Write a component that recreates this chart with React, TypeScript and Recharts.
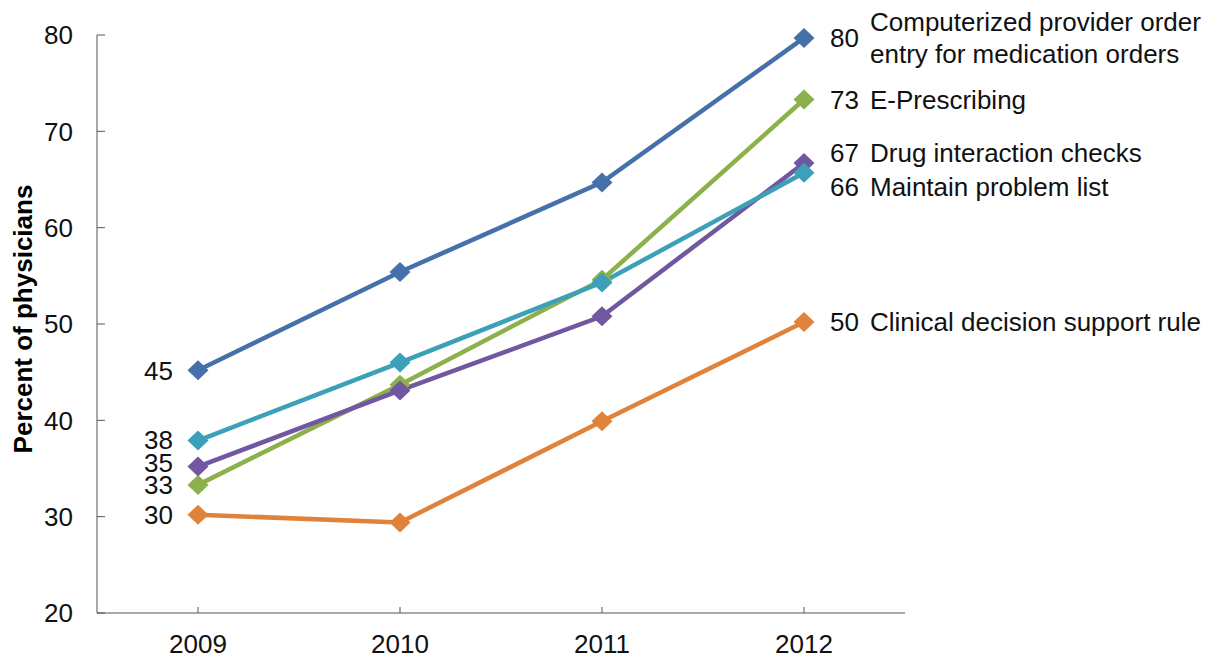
import { LineChart, Line, XAxis, YAxis, LabelList } from 'recharts';

const years = ['2009', '2010', '2011', '2012'];

// percent of physicians
const cpoe = [45.2, 55.4, 64.7, 79.7];
const ePrescribing = [33.3, 43.7, 54.6, 73.3];
const drugChecks = [35.2, 43.1, 50.8, 66.7];
const problemList = [37.9, 46.0, 54.3, 65.7];
const decisionSupport = [30.2, 29.4, 39.9, 50.2];

const yTicks = [20, 30, 40, 50, 60, 70, 80];

const data = years.map((year, i) => ({
  year,
  cpoe: cpoe[i],
  ePrescribing: ePrescribing[i],
  drugChecks: drugChecks[i],
  problemList: problemList[i],
  decisionSupport: decisionSupport[i],
}));

// nudges keep the end labels from overlapping
const series = [
  { key: 'cpoe', color: '#4570aa', name: ['Computerized provider order', 'entry for medication orders'], dyLeft: 1, dyRight: 0 },
  { key: 'ePrescribing', color: '#8cb04a', name: ['E-Prescribing'], dyLeft: 0, dyRight: 0 },
  { key: 'drugChecks', color: '#7157a0', name: ['Drug interaction checks'], dyLeft: -4, dyRight: -10 },
  { key: 'problemList', color: '#3ba0b8', name: ['Maintain problem list'], dyLeft: -1, dyRight: 14 },
  { key: 'decisionSupport', color: '#e0823a', name: ['Clinical decision support rule'], dyLeft: 0, dyRight: 0 },
];

const FONT = 26;

function Diamond(props: any) {
  const { cx, cy, fill, index } = props;
  if (cx == null || cy == null) return null;
  const w = 10.5;
  const h = 10;
  return (
    <polygon
      key={`d-${index}`}
      points={`${cx},${cy - h} ${cx + w},${cy} ${cx},${cy + h} ${cx - w},${cy}`}
      fill={fill}
    />
  );
}

function makeLabel(s: (typeof series)[number]) {
  return (props: any) => {
    const { x, y, value, index } = props;
    if (index === 0) {
      return (
        <text x={x - 25} y={y + s.dyLeft} dy="0.35em" textAnchor="end" fontSize={FONT} fill="#111">
          {Math.round(value)}
        </text>
      );
    }
    if (index === years.length - 1) {
      const ly = y + s.dyRight;
      const lines = s.name;
      return (
        <g>
          <text x={x + 26} y={ly} dy="0.35em" fontSize={FONT} fill="#111">
            {Math.round(value)}
          </text>
          {lines.map((line, i) => (
            <text
              key={line}
              x={x + 66}
              y={ly + (i - (lines.length - 1) / 2) * 32}
              dy="0.35em"
              fontSize={FONT}
              fill="#111"
            >
              {line}
            </text>
          ))}
        </g>
      );
    }
    return null;
  };
}

export default function App() {
  return (
    <div
      style={{
        position: 'absolute',
        left: 0,
        top: 0,
        width: 1222,
        height: 659,
        background: '#fff',
        fontFamily: '"Liberation Sans", Arial, sans-serif',
      }}
    >
      <LineChart width={1222} height={659} data={data} margin={{ top: 35, right: 317, bottom: 0, left: 0 }}>
        <XAxis
          dataKey="year"
          padding={{ left: 101, right: 101 }}
          height={46}
          tickSize={-6}
          tickMargin={28}
          axisLine={{ stroke: '#555' }}
          tickLine={{ stroke: '#555' }}
          tick={{ fill: '#111', fontSize: FONT }}
        />
        <YAxis
          type="number"
          domain={[20, 80]}
          ticks={yTicks}
          width={97}
          tickSize={-8}
          tickMargin={32}
          axisLine={{ stroke: '#555' }}
          tickLine={{ stroke: '#555' }}
          tick={{ fill: '#111', fontSize: FONT }}
          label={{
            content: () => (
              <text
                x={32}
                y={319}
                transform="rotate(-90 32 319)"
                textAnchor="middle"
                fontSize={FONT}
                fontWeight="bold"
                fill="#000"
              >
                Percent of physicians
              </text>
            ),
          }}
        />
        {series.map((s) => (
          <Line
            key={s.key}
            type="linear"
            dataKey={s.key}
            stroke={s.color}
            strokeWidth={4.5}
            dot={(p: any) => <Diamond {...p} fill={s.color} key={`${s.key}-${p.index}`} />}
            activeDot={false}
            isAnimationActive={false}
          >
            <LabelList dataKey={s.key} content={makeLabel(s)} />
          </Line>
        ))}
      </LineChart>
    </div>
  );
}
